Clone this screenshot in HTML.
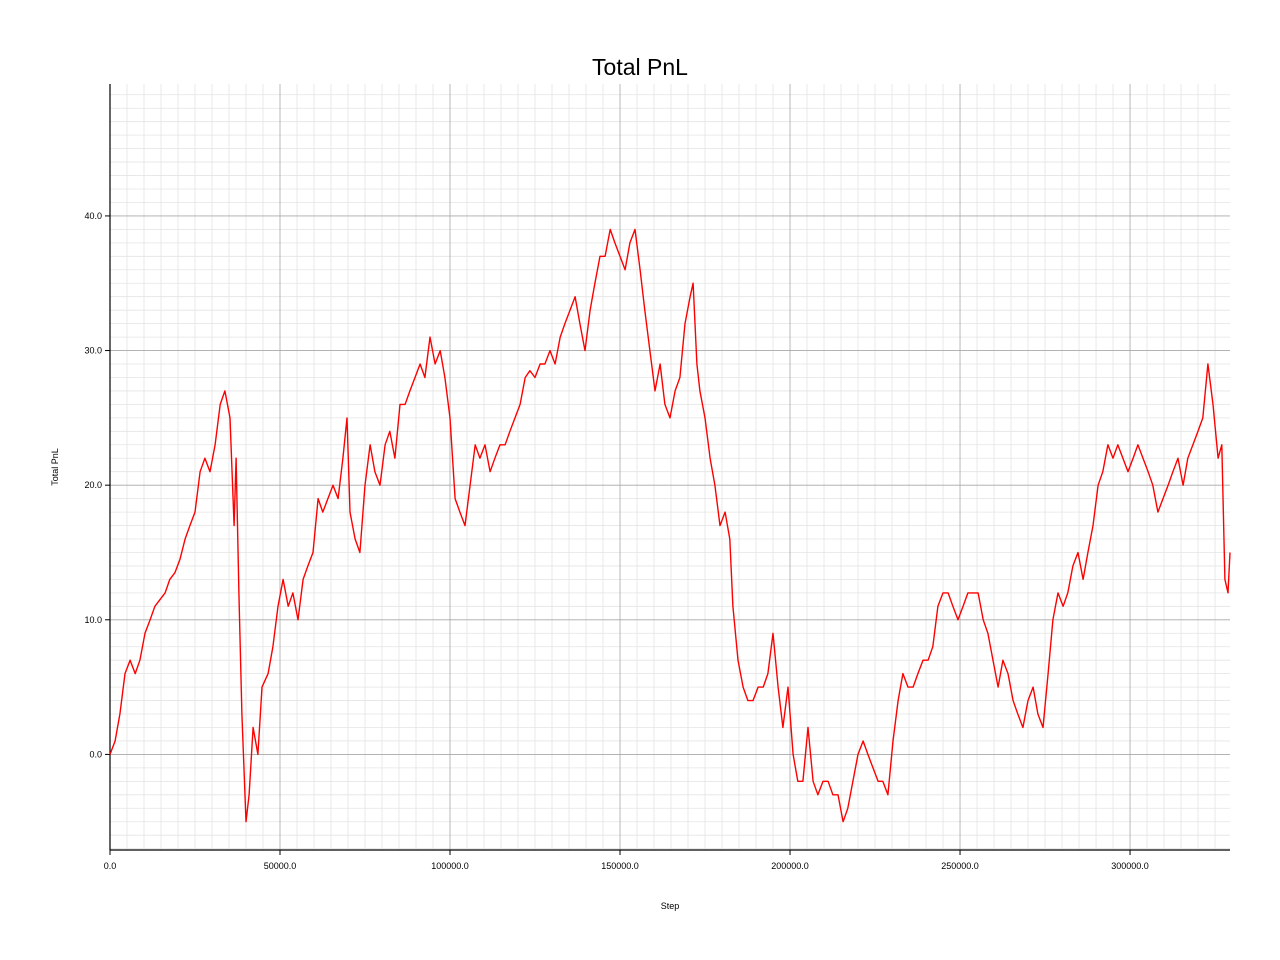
<!DOCTYPE html>
<html><head><meta charset="utf-8"><style>
body{margin:0;background:#fff;}
svg{display:block;font-family:"Liberation Sans",Arial,sans-serif;}
</style></head><body>
<svg id="chart" width="1280" height="960">
<text x="640" y="75" text-anchor="middle" font-size="23">Total PnL</text>
<g id="grid"></g>
<g id="axes"></g>
<text x="670" y="909" text-anchor="middle" font-size="9">Step</text>
<text x="58" y="467" text-anchor="middle" font-size="9" transform="rotate(-90 58 467)">Total PnL</text>
<g id="series"></g>
</svg>
<script>
const stepsK = [0,1.5,2.9,4.4,5.9,7.4,8.8,10.3,11.8,13.2,14.7,16.2,17.6,19.1,20.6,22.1,23.5,25.0,26.5,27.9,29.4,30.9,32.4,33.8,35.3,
36.5,37.1,37.9,38.8,40.0,40.9,42.1,43.5,44.7,
46.5,47.9,49.4,50.9,52.4,53.8,55.3,56.8,58.2,59.7,61.2,62.6,64.1,65.6,67.1,
68.5,69.7,
70.6,72.1,73.5,75.0,76.5,77.9,79.4,80.9,82.3,83.8,85.3,86.8,88.2,89.7,91.2,92.6,94.1,95.6,97.1,98.5,
100.0,101.5,102.9,104.4,105.9,107.4,108.8,110.3,111.8,113.2,114.7,116.2,117.6,119.1,120.6,122.1,123.5,125.0,126.5,127.9,
129.4,130.9,132.4,133.8,135.3,136.8,138.2,139.7,141.2,142.6,144.1,145.6,147.1,148.5,150.0,151.5,152.9,154.4,155.9,157.3,
158.8,160.3,161.8,163.2,164.7,166.2,167.6,169.1,
170.6,171.5,172.6,
173.5,175.0,176.5,177.9,179.4,180.9,182.3,
183.2,184.7,186.2,187.6,189.1,190.6,192.1,193.5,195.0,196.5,197.9,199.4,200.9,202.3,203.8,205.3,206.8,208.2,209.7,211.2,
212.6,214.1,215.6,217.0,218.5,220.0,221.5,222.9,224.4,225.9,227.3,228.8,230.3,231.8,233.2,234.7,236.2,237.6,239.1,240.6,
242.0,243.5,245.0,246.5,247.9,249.4,250.9,252.3,253.8,255.3,256.8,258.2,259.7,261.2,262.6,264.1,265.6,267.0,268.5,270.0,
271.5,272.9,274.4,275.9,277.3,278.8,280.3,281.7,283.2,284.7,286.2,287.6,289.1,290.6,292.0,293.5,295.0,296.4,297.9,299.4,
300.9,302.3,303.8,305.3,306.7,308.2,309.7,311.2,312.6,314.1,315.6,317.0,318.5,320.0,321.4,322.9,324.4,
325.9,327.0,327.9,328.8,329.4];
const pnl = [0,1,3,6,7,6,7,9,10,11,11.5,12,13,13.5,14.5,16,17,18,21,22,21,23,26,27,25,
17,22,12,3,-5,-3,2,0,5,
6,8,11,13,11,12,10,13,14,15,19,18,19,20,19,
22,25,
18,16,15,20,23,21,20,23,24,22,26,26,27,28,29,28,31,29,30,28,
25,19,18,17,20,23,22,23,21,22,23,23,24,25,26,28,28.5,28,29,29,
30,29,31,32,33,34,32,30,33,35,37,37,39,38,37,36,38,39,36,33,
30,27,29,26,25,27,28,32,
34,35,29,
27,25,22,20,17,18,16,
11,7,5,4,4,5,5,6,9,5,2,5,0,-2,-2,2,-2,-3,-2,-2,
-3,-3,-5,-4,-2,0,1,0,-1,-2,-2,-3,1,4,6,5,5,6,7,7,
8,11,12,12,11,10,11,12,12,12,10,9,7,5,7,6,4,3,2,4,
5,3,2,6,10,12,11,12,14,15,13,15,17,20,21,23,22,23,22,21,
22,23,22,21,20,18,19,20,21,22,20,22,23,24,25,29,26,
22,23,13,12,15];
const xTicks = [0,50000,100000,150000,200000,250000,300000];
const yTicks = [0,10,20,30,40];

const L=110,R=1230,T=84,B=850;
const xMin=0,xMax=329400,yMin=-7.1,yMax=49.8;
const xs=v=>L+(v-xMin)/(xMax-xMin)*(R-L);
const ys=v=>B-(v-yMin)/(yMax-yMin)*(B-T);
const NS="http://www.w3.org/2000/svg";
function mk(t,a,p){const e=document.createElementNS(NS,t);for(const k in a)e.setAttribute(k,a[k]);p.appendChild(e);return e;}
const grid=document.getElementById('grid'),axes=document.getElementById('axes'),ser=document.getElementById('series');
for(let v=0;v<=xMax;v+=5000){if(v%50000===0)continue;
 const l=mk('line',{x1:xs(v),x2:xs(v),y1:T,y2:B,stroke:'#e4e4e4','stroke-width':0.8},grid);
 
 }
for(let v=-7;v<=49;v+=1){if(v%10===0)continue;
 const l=mk('line',{x1:L,x2:R,y1:ys(v),y2:ys(v),stroke:'#e4e4e4','stroke-width':0.8},grid);
 
 }
xTicks.forEach(v=>{
 const l=mk('line',{x1:xs(v),x2:xs(v),y1:T,y2:B,stroke:'#a8a8a8','stroke-width':0.8},grid);
 
 
 const t=mk('line',{x1:xs(v),x2:xs(v),y1:B,y2:B+5,stroke:'#000'},axes);
 
 
 const tx=mk('text',{x:xs(v),y:B+19,'font-size':9,'text-anchor':'middle'},axes);
 tx.textContent=v.toFixed(1);
 
 });
yTicks.forEach(v=>{
 const l=mk('line',{x1:L,x2:R,y1:ys(v),y2:ys(v),stroke:'#a8a8a8','stroke-width':0.8},grid);
 
 
 const t=mk('line',{x1:L-5,x2:L,y1:ys(v),y2:ys(v),stroke:'#000'},axes);
 
 
 const tx=mk('text',{x:L-8,y:ys(v)+3,'font-size':9,'text-anchor':'end'},axes);
 tx.textContent=v.toFixed(1);
 
 });
const ax1=mk('line',{x1:L,x2:L,y1:T,y2:B,stroke:'#000','stroke-width':1.2},axes);


const ax2=mk('line',{x1:L,x2:R,y1:B,y2:B,stroke:'#000','stroke-width':1.2},axes);


const d=stepsK.map((s,i)=>(i?'L':'M')+xs(s*1000).toFixed(1)+','+ys(pnl[i]).toFixed(1)).join('');
const p=mk('path',{d:d,fill:'none',stroke:'#ff0000','stroke-width':1.4,'stroke-linejoin':'round'},ser);


</script>
</body></html>
